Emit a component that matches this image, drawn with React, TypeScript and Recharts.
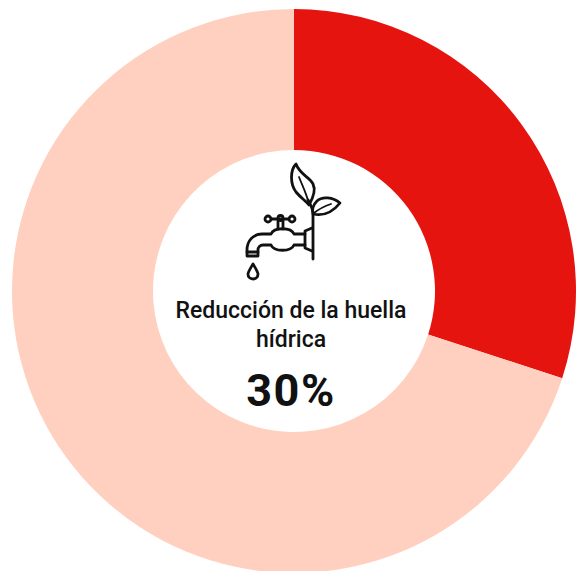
import React from 'react'
import { PieChart, Pie, Cell } from 'recharts'

const categories = ['Reducción', 'Resto']
const values = [30, 70]
const COLORS = ['#E5140F', '#FFD0BF']
const titleLines = ['Reducción de la huella', 'hídrica']
const totalLabel = '30%'

const FONT = 'Roboto, "Noto Sans", sans-serif'

// faucet + plant icon in the hole of the donut
const WaterIcon = () => (
  <g fill="none" stroke="#111" strokeWidth={2.8} strokeLinecap="round" strokeLinejoin="round">
    {/* stem */}
    <path d="M313 259V214C313 208 310 204 308 200" />
    {/* big leaf */}
    <path d="M296 164C290 170 290 184 296 192C301 198 306 201 309 205C313 198 316 190 313 184C310 177 300 175 296 164Z" />
    <path d="M299 177C302 185 306 192 309 204" strokeWidth={1.8} />
    {/* small leaf */}
    <path d="M340 203C333 197 322 196 317 201C313 205 312 210 313 214C322 216 332 213 340 203Z" />
    <path d="M331 204C325 206 319 209 314 213" strokeWidth={1.8} />
    {/* flange */}
    <path d="M312 228L305 231V248L312 251" />
    {/* body */}
    <path d="M305 234H294C291 227 274 227 271 234H262C253 234 247 241 247 250V252H258V250C258 247 260 245 263 245H271C274 252 291 252 294 245H305" />
    <path d="M247 252V256H258V252" />
    {/* handle */}
    <path d="M278 229V221M283 229V221M271 219H289" />
    <circle cx={268} cy={219} r={3} />
    <circle cx={280.5} cy={218} r={2.5} />
    <circle cx={292} cy={219} r={3} />
    {/* drop */}
    <path d="M253 264C250 269 248 272 248 274C248 277 250 279 253 279C256 279 258 277 258 274C258 272 256 269 253 264Z" />
  </g>
)

const App = () => {
  const data = categories.map((name, i) => ({ name, value: values[i] }))

  return (
    <div style={{ position: 'absolute', left: 0, top: 0, width: 578, height: 571, overflow: 'hidden', background: '#fff' }}>
      <PieChart width={578} height={571} margin={{ top: 0, right: 0, bottom: 0, left: 0 }}>
        <Pie
          data={data}
          dataKey="value"
          nameKey="name"
          cx={294}
          cy={291}
          innerRadius={141}
          outerRadius={282}
          startAngle={90}
          endAngle={-270}
          stroke="none"
          isAnimationActive={false}
        >
          {data.map((entry, index) => (
            <Cell key={`cell-${index}`} fill={COLORS[index]} />
          ))}
        </Pie>
        <WaterIcon />
        <text x={291} y={318} textAnchor="middle" fontFamily={FONT} fontSize={23} fontWeight={500} fill="#111">
          {titleLines[0]}
        </text>
        <text x={291} y={347} textAnchor="middle" fontFamily={FONT} fontSize={23} fontWeight={500} fill="#111">
          {titleLines[1]}
        </text>
        <text x={291} y={406} textAnchor="middle" fontFamily={FONT} fontSize={45} fontWeight={700} letterSpacing={1.5} fill="#111">
          {totalLabel}
        </text>
      </PieChart>
    </div>
  )
}

export default App
